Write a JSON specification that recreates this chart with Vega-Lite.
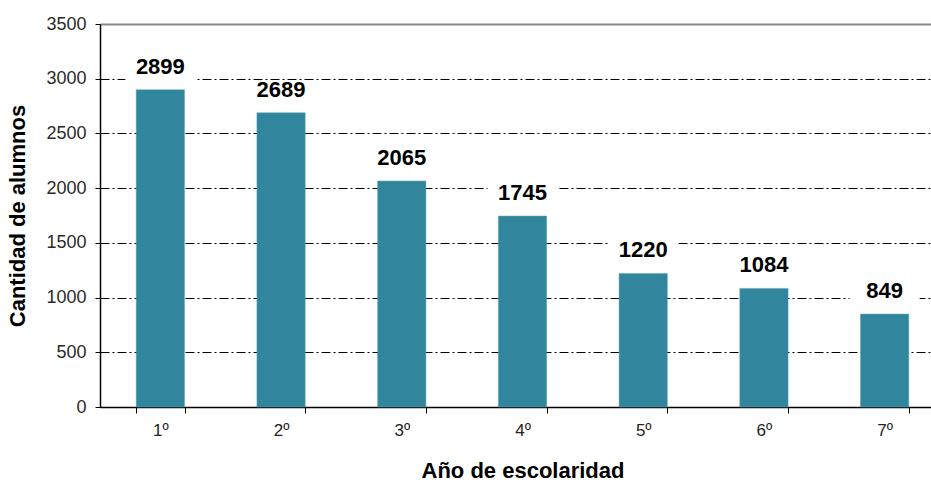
{
  "$schema": "https://vega.github.io/schema/vega-lite/v6.json",
  "autosize": {"type": "none"},
  "padding": {"left": 100, "top": 24, "right": 0, "bottom": 76},
  "width": 845,
  "height": 383,
  "background": "white",
  "config": {
    "view": {"stroke": null},
    "font": "Liberation Sans"
  },
  "data": {
    "values": [
      {"anio": "1º", "alumnos": 2899},
      {"anio": "2º", "alumnos": 2689},
      {"anio": "3º", "alumnos": 2065},
      {"anio": "4º", "alumnos": 1745},
      {"anio": "5º", "alumnos": 1220},
      {"anio": "6º", "alumnos": 1084},
      {"anio": "7º", "alumnos": 849}
    ]
  },
  "encoding": {
    "x": {
      "field": "anio",
      "type": "nominal",
      "sort": null,
      "scale": {"paddingInner": 0.6, "paddingOuter": 0.3},
      "axis": {
        "title": "Año de escolaridad",
        "titleFont": "Liberation Sans",
        "titleFontSize": 22,
        "titleFontWeight": "bold",
        "titleColor": "#000000",
        "titlePadding": 22,
        "labelAngle": 0,
        "labelFont": "Liberation Sans",
        "labelFontSize": 17,
        "labelColor": "#222222",
        "labelPadding": 9,
        "domainColor": "#000000",
        "domainWidth": 1.5,
        "tickColor": "#000000",
        "tickSize": 6,
        "tickBand": "extent",
        "grid": false
      }
    },
    "y": {
      "field": "alumnos",
      "type": "quantitative",
      "scale": {"domain": [0, 3500], "nice": false},
      "axis": {
        "title": "Cantidad de alumnos",
        "titleFont": "Liberation Sans",
        "titleFontSize": 22,
        "titleFontWeight": "bold",
        "titleColor": "#000000",
        "titlePadding": 16,
        "values": [0, 500, 1000, 1500, 2000, 2500, 3000, 3500],
        "format": "d",
        "labelFont": "Liberation Sans",
        "labelFontSize": 18,
        "labelColor": "#2a2a2a",
        "labelPadding": 9,
        "domainColor": "#000000",
        "domainWidth": 1.5,
        "tickColor": "#000000",
        "tickSize": 5,
        "grid": true,
        "gridColor": {"condition": {"test": "datum.value === 3500", "value": "#888888"}, "value": "#000000"},
        "gridWidth": {"condition": {"test": "datum.value === 3500", "value": 2}, "value": 1},
        "gridDash": {"condition": {"test": "datum.value === 3500", "value": []}, "value": [9, 3, 2, 3]}
      }
    }
  },
  "layer": [
    {
      "mark": {"type": "bar", "color": "#31859C", "stroke": "#5aa3b5", "strokeWidth": 0.5}
    },
    {
      "mark": {"type": "point", "shape": "M-1.5,-0.5H1.5V0.5H-1.5Z", "filled": true, "color": "white", "opacity": 1, "size": 2180, "strokeWidth": 0},
      "encoding": {"yOffset": {"value": -19}}
    },
    {
      "mark": {"type": "text", "baseline": "bottom", "dy": -11, "fontSize": 22, "fontWeight": "bold", "color": "#000000", "font": "Liberation Sans"},
      "encoding": {"text": {"field": "alumnos", "type": "quantitative"}}
    }
  ]
}
